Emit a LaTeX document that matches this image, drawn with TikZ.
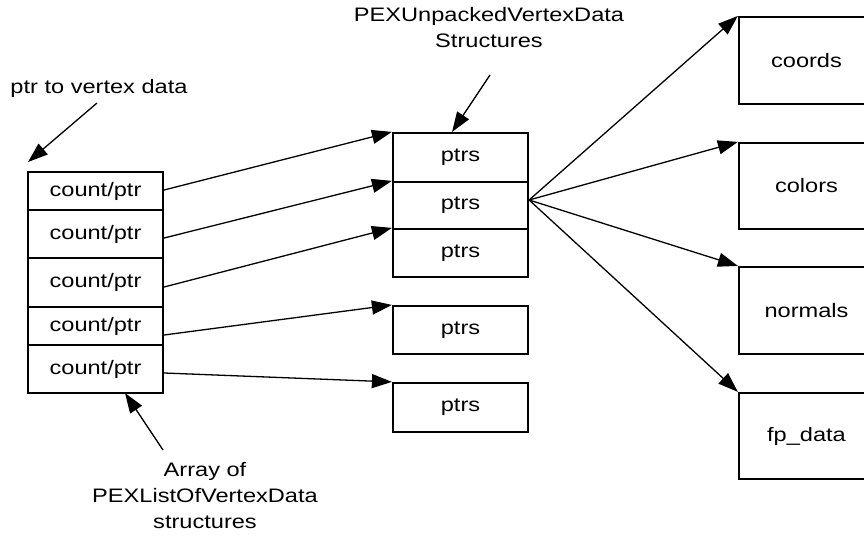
\documentclass[tikz,border=0pt]{standalone}
\usepackage{fontspec}
\setmainfont{Liberation Sans}[FakeStretch=1.21]
\usetikzlibrary{arrows.meta}
\begin{document}
\begin{tikzpicture}[x=1pt,y=-1pt,
  cell/.style={draw,line width=2.2pt,minimum width=135pt,inner sep=0pt,font=\fontsize{19.5}{22}\selectfont},
  lbl/.style={align=center,font=\fontsize{19.5}{26}\selectfont,inner sep=0pt},
  arr/.style={line width=1.3pt,-{Triangle[length=20pt,width=14pt]}}]
\useasboundingbox (0,0) rectangle (864,538);
\clip (0,0) rectangle (864,538);
% left array
\node[cell,minimum height=38pt] (c1) at (95.5,191) {count/ptr};
\node[cell,minimum height=48pt] (c2) at (95.5,234) {count/ptr};
\node[cell,minimum height=49pt] (c3) at (95.5,282.5) {count/ptr};
\node[cell,minimum height=38pt] (c4) at (95.5,326) {count/ptr};
\node[cell,minimum height=48pt] (c5) at (95.5,369) {count/ptr};
% middle
\node[cell,minimum height=49pt] (m1) at (460.5,157.5) {ptrs};
\node[cell,minimum height=47pt] (m2) at (460.5,205.5) {ptrs};
\node[cell,minimum height=48pt] (m3) at (460.5,253) {ptrs};
\node[cell,minimum height=48pt] (s1) at (460.5,330) {ptrs};
\node[cell,minimum height=49pt] (s2) at (460.5,407.5) {ptrs};
% right
\node[cell,minimum height=87pt] (r1) at (806.5,60.5) {coords};
\node[cell,minimum height=86pt] (r2) at (806.5,186) {colors};
\node[cell,minimum height=87pt] (r3) at (806.5,310.5) {normals};
\node[cell,minimum height=86pt] (r4) at (806.5,436) {fp\_data};
% connectors left -> middle
\draw[arr] (c1.east |- 0,190) -- (m1.north west);
\draw[arr] (c2.east |- 0,238) -- (m2.north west);
\draw[arr] (c3.east |- 0,287) -- (m3.north west);
\draw[arr] (c4.east |- 0,335) -- (s1.north west);
\draw[arr] (c5.east |- 0,373) -- (s2.north west);
% fan
\coordinate (fan) at (m2.east |- 0,200);
\draw[arr] (fan) -- (r1.north west);
\draw[arr] (fan) -- (r2.north west);
\draw[arr] (fan) -- (r3.north west);
\draw[arr] (fan) -- (r4.north west);
% labels
\node[lbl,anchor=base] (lptr) at (99,93) {ptr to vertex data};
\coordinate (lptrs) at (97,103);
\coordinate (lptre) at (28,162);
\draw[arr] (lptrs) -- (lptre);
\node[lbl,anchor=base] (ltop) at (489,47) {PEXUnpackedVertexData\\Structures};
\coordinate (ltops) at (490,75);
\coordinate (ltope) at (452,132);
\draw[arr] (ltops) -- (ltope);
\node[lbl,anchor=base] (lbot) at (205,528) {Array of\\PEXListOfVertexData\\structures};
\coordinate (lbots) at (163,450);
\coordinate (lbote) at (125,393);
\draw[arr] (lbots) -- (lbote);
\end{tikzpicture}
\end{document}
